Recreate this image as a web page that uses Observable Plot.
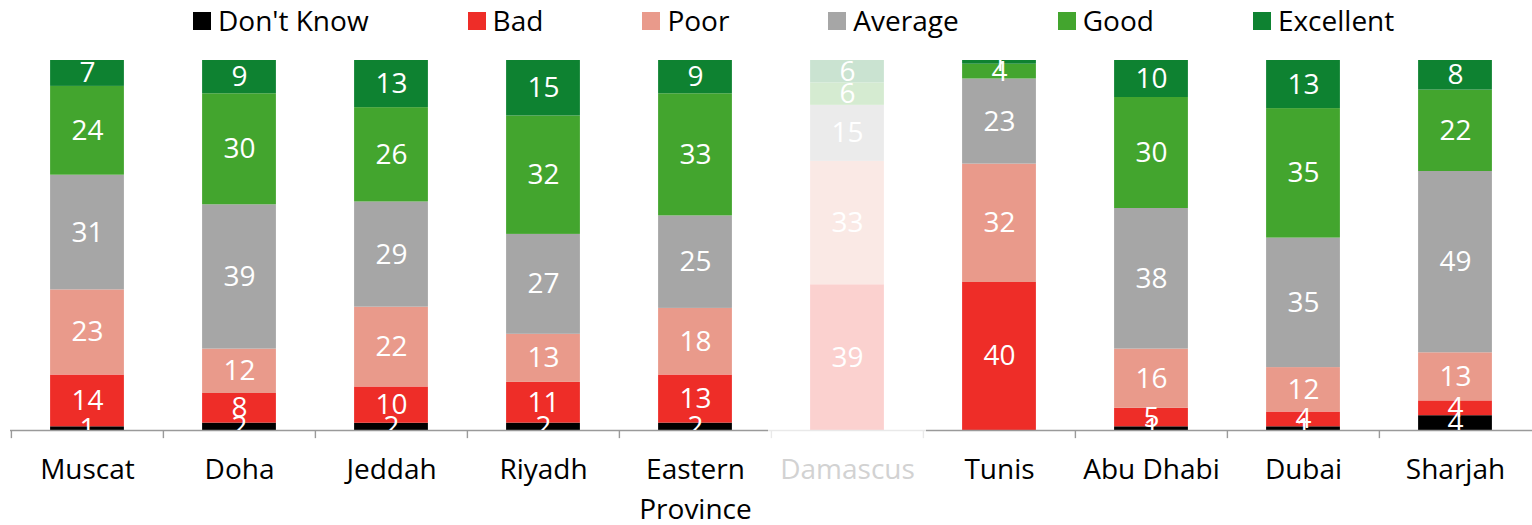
<!DOCTYPE html>
<html>
<head>
<meta charset="utf-8">
<script src="https://cdn.jsdelivr.net/npm/d3@7"></script>
<script src="https://cdn.jsdelivr.net/npm/@observablehq/plot@0.6"></script>
<style>
  html, body { margin: 0; padding: 0; background: #fff; }
  body { width: 1532px; height: 525px; overflow: hidden; font-family: "Open Sans", sans-serif; }
  #legend { height: 50px; display: flex; align-items: flex-start; padding-left: 193px; box-sizing: border-box; }
  .item { display: flex; align-items: center; height: 40px; line-height: 40px; font-size: 28px; color: #000; margin-right: 99px; }
  .sw { width: 18px; height: 18px; margin-right: 7px; margin-top: 1px; }
  #chart svg { display: block; font-family: "Open Sans", sans-serif; }
</style>
</head>
<body>
<div id="legend"></div>
<div id="chart"></div>
<script>
const cities = ["Muscat", "Doha", "Jeddah", "Riyadh", "Eastern Province", "Damascus", "Tunis", "Abu Dhabi", "Dubai", "Sharjah"];
const cityLabels = ["Muscat", "Doha", "Jeddah", "Riyadh", "Eastern\nProvince", "Damascus", "Tunis", "Abu Dhabi", "Dubai", "Sharjah"];
const categories = ["Don't Know", "Bad", "Poor", "Average", "Good", "Excellent"];
const colors = ["#000000", "#ee2d28", "#e99a8b", "#a6a6a6", "#43a52e", "#0e8231"];

const dontKnow  = [1, 2, 2, 2, 2, 0, 0, 1, 1, 4];
const bad       = [14, 8, 10, 11, 13, 39, 40, 5, 4, 4];
const poor      = [23, 12, 22, 13, 18, 33, 32, 16, 12, 13];
const average   = [31, 39, 29, 27, 25, 15, 23, 38, 35, 49];
const good      = [24, 30, 26, 32, 33, 6, 4, 30, 35, 22];
const excellent = [7, 9, 13, 15, 9, 6, 1, 10, 13, 8];
const fadedCity = "Damascus";

const series = [dontKnow, bad, poor, average, good, excellent];
const data = [];
cities.forEach((city, i) => {
  categories.forEach((cat, j) => {
    data.push({city, cat, value: series[j][i]});
  });
});

// legend
const legend = document.getElementById("legend");
categories.forEach((c, j) => {
  const it = document.createElement("div");
  it.className = "item";
  const sw = document.createElement("span");
  sw.className = "sw";
  sw.style.background = colors[j];
  const t = document.createElement("span");
  t.textContent = c;
  it.appendChild(sw); it.appendChild(t);
  legend.appendChild(it);
});

const W = 1532, marginLeft = 10, marginRight = 0;
const step = (W - marginLeft - marginRight) / cities.length;
const barW = 74;
const inset = (step - barW) / 2;

const chart = Plot.plot({
  width: W,
  height: 475,
  marginTop: 10,
  marginBottom: 95,
  marginLeft,
  marginRight,
  x: {domain: cities, padding: 0, axis: null},
  y: {domain: [0, 1], axis: null},
  color: {domain: categories, range: colors},
  style: {fontFamily: "Open Sans, sans-serif", background: "white"},
  marks: [
    Plot.barY(data, Plot.stackY({offset: "normalize"}, {
      x: "city", y: "value", z: "cat", fill: "cat", insetLeft: inset, insetRight: inset
    })),
    Plot.ruleY([0], {stroke: "#9a9a9a", strokeWidth: 1.4}),
    Plot.ruleX(cities, {x: d => d, dx: -step / 2, y1: 0, y2: -0.022, stroke: "#9a9a9a", strokeWidth: 1.4}),
    Plot.barY([fadedCity], {x: d => d, y1: -0.03, y2: 1.0, fill: "white", fillOpacity: 0.78, insetLeft: -3, insetRight: -3}),
    Plot.text(data, Plot.stackY({offset: "normalize"}, {
      x: "city", y: "value", z: "cat", text: d => String(d.value),
      filter: d => d.value > 0,
      fill: "white", fontSize: 28, lineAnchor: "middle", clip: true
    })),
    Plot.text(cities, {
      x: d => d, y: 0, text: (d, i) => cityLabels[i],
      dy: 20, lineAnchor: "top", lineHeight: 1.43, fontSize: 28,
      fill: d => d === fadedCity ? "#d2d2d2" : "#000"
    })
  ]
});
document.getElementById("chart").appendChild(chart);
</script>
</body>
</html>
